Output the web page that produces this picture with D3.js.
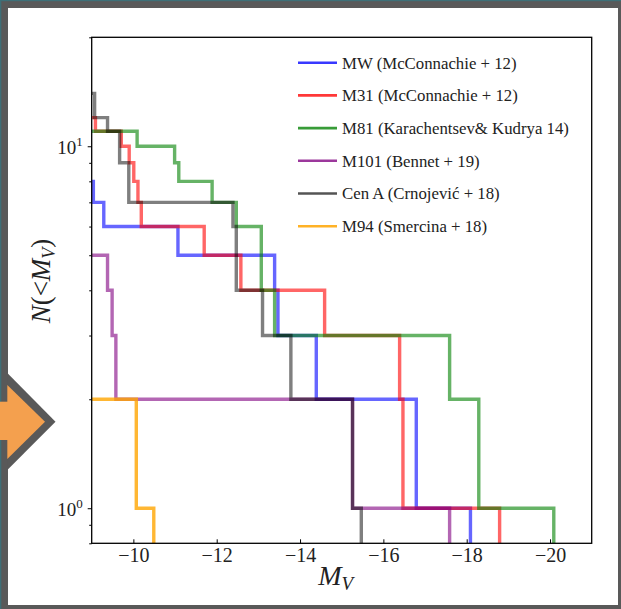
<!DOCTYPE html>
<html>
<head>
<meta charset="utf-8">
<script src="https://cdn.jsdelivr.net/npm/d3@7"></script>
<style>
  body { margin: 0; background: #fff; }
</style>
</head>
<body>
<script>
// absolute magnitudes (M_V) of satellites brighter than -9
var mwMags   = [-9.04, -9.29, -11.07, -13.39, -13.47, -14.39, -16.79, -18.09];
var m31Mags  = [-9.09, -9.71, -9.90, -10.01, -10.11, -10.19, -11.70, -12.58, -14.59, -16.39, -16.47, -18.79];
var m81Mags  = [-10.09, -10.99, -11.09, -11.89, -12.47, -13.07, -13.07, -13.39, -17.59, -18.29, -20.09];
var m101Mags = [-9.38, -9.49, -9.58, -15.26, -17.59];
var cenAMags = [-9.07, -9.07, -9.38, -9.67, -9.67, -9.89, -9.89, -12.39, -12.47, -12.47, -13.10, -13.78, -15.26, -15.47];
var m94Mags  = [-10.07, -10.49];

var seriesNames = ["MW (McConnachie + 12)", "M31 (McConnachie + 12)", "M81 (Karachentsev& Kudrya 14)",
                   "M101 (Bennet + 19)", "Cen A (Crnojević + 18)", "M94 (Smercina + 18)"];
var seriesColors = ["#0000ff", "#ff0000", "#008000", "#800080", "#000000", "#ffa500"];
var seriesAlpha = [0.6, 0.6, 0.6, 0.6, 0.5, 0.8];
var legendAlpha = [0.78, 0.78, 0.78, 0.78, 0.67, 0.85];
var seriesMags = [mwMags, m31Mags, m81Mags, m101Mags, cenAMags, m94Mags];

var xTicks = [-10, -12, -14, -16, -18, -20];
var yTicks = [1, 10];
var yMinor = [0.8, 0.9, 2, 3, 4, 5, 6, 7, 8, 9, 20];

var serif = "'Liberation Serif', serif";

var svgWidth = 621, svgHeight = 609;
var margin = {top: 37.3, right: 29.3, bottom: 65.7, left: 91.7};
var width = svgWidth - margin.left - margin.right,
    height = svgHeight - margin.top - margin.bottom;

var svg = d3.select("body").append("svg")
    .attr("width", svgWidth)
    .attr("height", svgHeight)
    .style("font-family", serif);

// slide frame
svg.append("rect").attr("width", svgWidth).attr("height", svgHeight).attr("fill", "#595959");
svg.append("rect").attr("x", 0).attr("y", 0).attr("width", svgWidth).attr("height", 1.2).attr("fill", "#3d6f77");
svg.append("rect").attr("x", 0).attr("y", 0).attr("width", 1.3).attr("height", svgHeight).attr("fill", "#3d6f77");
svg.append("rect").attr("x", 8).attr("y", 8).attr("width", 610).attr("height", 597).attr("fill", "#fff");

// orange arrow on the left edge
svg.append("polygon").attr("points", "7.3,373 55.5,421.7 7.3,470").attr("fill", "#595959");
svg.append("polygon").attr("points", "7.3,385 45,421.7 7.3,459").attr("fill", "#f4a04e");
svg.append("rect").attr("x", 0).attr("y", 401.7).attr("width", 8).attr("height", 38.3).attr("fill", "#f4a04e");

var g = svg.append("g")
    .attr("transform", "translate(" + margin.left + "," + margin.top + ")");

var x = d3.scaleLinear().domain([-9, -21]).range([0, width]);
var y = d3.scaleLog().domain([0.8, 20]).range([height, 0]);

g.append("clipPath").attr("id", "clip")
  .append("rect").attr("width", width).attr("height", height);

// cumulative step curves N(<M_V)
var line = d3.line()
    .x(d => x(d.m))
    .y(d => y(Math.max(d.n, 0.5)))
    .curve(d3.curveStepAfter);

seriesMags.forEach(function(mags, i) {
    var pts = [{m: -9, n: mags.length}];
    mags.forEach(function(m, j) { pts.push({m: m, n: mags.length - j - 1}); });
    g.append("path")
        .datum(pts)
        .attr("clip-path", "url(#clip)")
        .attr("fill", "none")
        .attr("stroke", seriesColors[i])
        .attr("stroke-opacity", seriesAlpha[i])
        .attr("stroke-width", 3.4)
        .attr("d", line);
});

// axes
var xAxis = g.append("g")
    .attr("transform", "translate(0," + height + ")")
    .call(d3.axisBottom(x).tickValues(xTicks).tickSizeInner(-4).tickSizeOuter(0)
          .tickFormat(d => "\u2212" + Math.abs(d)));
xAxis.select(".domain").remove();
xAxis.selectAll("text")
    .attr("y", 5).attr("font-size", 20).attr("fill", "#222")
    .style("font-family", serif);

var yAxis = g.append("g")
    .call(d3.axisLeft(y).tickValues(yTicks).tickSize(4).tickFormat(""));
yAxis.select(".domain").remove();
var yMin = g.append("g")
    .call(d3.axisLeft(y).tickValues(yMinor).tickSize(2.5).tickFormat(""));
yMin.select(".domain").remove();

yTicks.forEach(function(v) {
    var t = g.append("text")
        .attr("x", -9).attr("y", y(v) + 8)
        .attr("text-anchor", "end")
        .attr("font-size", 19).attr("fill", "#222");
    t.append("tspan").text("10");
    t.append("tspan").attr("dy", -8).attr("font-size", 13).text(Math.round(Math.log10(v)));
});

g.append("rect")
    .attr("width", width).attr("height", height)
    .attr("fill", "none").attr("stroke", "#000").attr("stroke-width", 1.3);

// axis labels
var xl = svg.append("text")
    .attr("x", margin.left + width / 2 - 6).attr("y", 585)
    .attr("text-anchor", "middle").attr("font-size", 28)
    .attr("font-style", "italic").attr("fill", "#222");
xl.append("tspan").text("M");
xl.append("tspan").attr("dy", 5).attr("font-size", 19).text("V");

var yl = svg.append("text")
    .attr("transform", "translate(50," + 281 + ") rotate(-90)")
    .attr("text-anchor", "middle").attr("font-size", 27)
    .attr("font-style", "italic").attr("fill", "#222");
yl.append("tspan").text("N");
yl.append("tspan").attr("font-style", "normal").text("(<");
yl.append("tspan").text("M");
yl.append("tspan").attr("dy", 5).attr("font-size", 18).text("V");
yl.append("tspan").attr("dy", -5).attr("font-style", "normal").text(")");

// legend
var legend = svg.append("g").attr("transform", "translate(298,62.7)");
seriesNames.forEach(function(name, i) {
    var ly = i * 32.7;
    legend.append("line")
        .attr("x1", 0).attr("x2", 39).attr("y1", ly).attr("y2", ly)
        .attr("stroke", seriesColors[i]).attr("stroke-opacity", legendAlpha[i])
        .attr("stroke-width", 2.6);
    legend.append("text")
        .attr("x", 44).attr("y", ly).attr("dy", "0.35em")
        .attr("font-size", 16.8).attr("fill", "#222")
        .text(name);
});
</script>
</body>
</html>
